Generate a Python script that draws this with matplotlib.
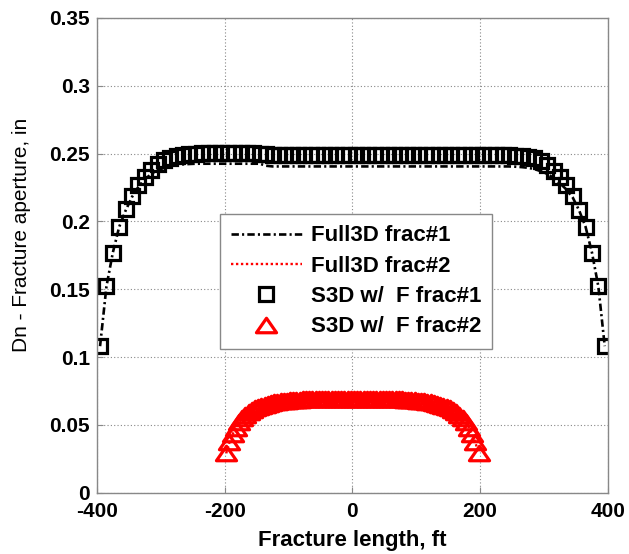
import matplotlib
matplotlib.use('Agg')
import matplotlib.pyplot as plt
from matplotlib.path import Path

# element centres along the fracture, ft
x_frac1 = [-395, -385, -375, -365, -355, -345, -335, -325, -315, -305,
           -295, -285, -275, -265, -255, -245, -235, -225, -215, -205,
           -195, -185, -175, -165, -155, -145, -135, -125, -115, -105,
           -95, -85, -75, -65, -55, -45, -35, -25, -15, -5,
           5, 15, 25, 35, 45, 55, 65, 75, 85, 95,
           105, 115, 125, 135, 145, 155, 165, 175, 185, 195,
           205, 215, 225, 235, 245, 255, 265, 275, 285, 295,
           305, 315, 325, 335, 345, 355, 365, 375, 385, 395]

x_frac2 = [-197.5, -192.5, -187.5, -182.5, -177.5, -172.5, -167.5, -162.5, -157.5, -152.5,
           -147.5, -142.5, -137.5, -132.5, -127.5, -122.5, -117.5, -112.5, -107.5, -102.5,
           -97.5, -92.5, -87.5, -82.5, -77.5, -72.5, -67.5, -62.5, -57.5, -52.5,
           -47.5, -42.5, -37.5, -32.5, -27.5, -22.5, -17.5, -12.5, -7.5, -2.5,
           2.5, 7.5, 12.5, 17.5, 22.5, 27.5, 32.5, 37.5, 42.5, 47.5,
           52.5, 57.5, 62.5, 67.5, 72.5, 77.5, 82.5, 87.5, 92.5, 97.5,
           102.5, 107.5, 112.5, 117.5, 122.5, 127.5, 132.5, 137.5, 142.5, 147.5,
           152.5, 157.5, 162.5, 167.5, 172.5, 177.5, 182.5, 187.5, 192.5, 197.5]

# Full3D results (lines)
full3d_frac1 = [0.108, 0.152, 0.177, 0.196, 0.208, 0.218, 0.2255, 0.231, 0.2348, 0.2375,
                0.2395, 0.2408, 0.2416, 0.242, 0.2423, 0.2425, 0.2425, 0.2425, 0.2425, 0.2425,
                0.2425, 0.2425, 0.2425, 0.2425, 0.2425, 0.2425, 0.241, 0.2405, 0.2405, 0.2405,
                0.2405, 0.2405, 0.2405, 0.2405, 0.2405, 0.2405, 0.2405, 0.2405, 0.2405, 0.2405,
                0.2405, 0.2405, 0.2405, 0.2405, 0.2405, 0.2405, 0.2405, 0.2405, 0.2405, 0.2405,
                0.2405, 0.2405, 0.2405, 0.2405, 0.2405, 0.2405, 0.2405, 0.2405, 0.2405, 0.2405,
                0.2405, 0.2405, 0.2405, 0.2405, 0.2405, 0.2403, 0.2400, 0.2395, 0.2385, 0.2370,
                0.2350, 0.2320, 0.2280, 0.2235, 0.2175, 0.2080, 0.1960, 0.1770, 0.1520, 0.1080]

full3d_frac2 = [0.029, 0.037, 0.043, 0.048, 0.052, 0.055, 0.0573, 0.0592, 0.0607, 0.0619,
                0.0629, 0.0637, 0.0645, 0.0652, 0.0657, 0.0662, 0.0667, 0.067, 0.0673, 0.0676,
                0.0678, 0.068, 0.0682, 0.0683, 0.0684, 0.0685, 0.0686, 0.0687, 0.0687, 0.0687,
                0.0688, 0.0688, 0.0688, 0.0688, 0.0689, 0.0689, 0.0689, 0.0689, 0.0689, 0.0689,
                0.0689, 0.0689, 0.0689, 0.0689, 0.0689, 0.0689, 0.0688, 0.0688, 0.0688, 0.0688,
                0.0687, 0.0687, 0.0687, 0.0686, 0.0685, 0.0684, 0.0683, 0.0682, 0.068, 0.0678,
                0.0676, 0.0673, 0.067, 0.0667, 0.0662, 0.0657, 0.0652, 0.0645, 0.0637, 0.0629,
                0.0619, 0.0607, 0.0592, 0.0573, 0.055, 0.052, 0.048, 0.043, 0.037, 0.029]

# S3D w/ F results (markers)
s3d_frac1 = [0.108, 0.152, 0.177, 0.196, 0.209, 0.219, 0.227, 0.233, 0.238, 0.242,
             0.245, 0.247, 0.248, 0.249, 0.2495, 0.250, 0.2505, 0.2505, 0.2505, 0.2505,
             0.2505, 0.2505, 0.2505, 0.2505, 0.2505, 0.2500, 0.2495, 0.2492, 0.249, 0.249,
             0.249, 0.249, 0.249, 0.249, 0.249, 0.249, 0.249, 0.249, 0.249, 0.249,
             0.249, 0.249, 0.249, 0.249, 0.249, 0.249, 0.249, 0.249, 0.249, 0.249,
             0.249, 0.249, 0.249, 0.249, 0.249, 0.249, 0.249, 0.249, 0.249, 0.249,
             0.249, 0.249, 0.249, 0.249, 0.2488, 0.2485, 0.248, 0.2475, 0.2465, 0.2445,
             0.2415, 0.2375, 0.2325, 0.2265, 0.219, 0.2085, 0.196, 0.177, 0.152, 0.108]

s3d_frac2 = [0.029, 0.037, 0.043, 0.048, 0.052, 0.055, 0.0575, 0.0595, 0.061, 0.0622,
             0.0632, 0.064, 0.0648, 0.0655, 0.066, 0.0665, 0.067, 0.0673, 0.0676, 0.0679,
             0.0681, 0.0683, 0.0685, 0.0686, 0.0687, 0.0688, 0.0689, 0.069, 0.069, 0.069,
             0.0691, 0.0691, 0.0691, 0.0691, 0.0692, 0.0692, 0.0692, 0.0692, 0.0692, 0.0692,
             0.0692, 0.0692, 0.0692, 0.0692, 0.0692, 0.0692, 0.0691, 0.0691, 0.0691, 0.0691,
             0.069, 0.069, 0.069, 0.0689, 0.0688, 0.0687, 0.0686, 0.0685, 0.0683, 0.0681,
             0.0679, 0.0676, 0.0673, 0.067, 0.0665, 0.066, 0.0655, 0.0648, 0.064, 0.0632,
             0.0622, 0.061, 0.0595, 0.0575, 0.055, 0.052, 0.048, 0.043, 0.037, 0.029]

x_ticks = [-400, -200, 0, 200, 400]
y_ticks = [0, 0.05, 0.1, 0.15, 0.2, 0.25, 0.3, 0.35]
y_tick_labels = ['0', '0.05', '0.1', '0.15', '0.2', '0.25', '0.3', '0.35']

plt.rcParams['font.family'] = ['Liberation Sans', 'DejaVu Sans']
plt.rcParams['axes.unicode_minus'] = False

fig = plt.figure(figsize=(6.29, 5.54), dpi=100)
ax = fig.add_axes([0.154, 0.1107, 0.8125, 0.857])

# wide triangle marker like the original
tri = Path([(-1, -0.72), (1, -0.72), (0, 0.72), (-1, -0.72)], closed=True)

ax.plot(x_frac1, full3d_frac1, color='black', lw=1.9, dashes=(2.8, 1.2, 0.8, 1.2),
        label='Full3D frac#1')
ax.plot(x_frac2, full3d_frac2, color='red', lw=1.7, dashes=(1, 1.1),
        label='Full3D frac#2')
ax.plot(x_frac1, s3d_frac1, ls='none', marker='s', ms=10, mew=2.3,
        mec='black', mfc='none', label='S3D w/  F frac#1')
ax.plot(x_frac2, s3d_frac2, ls='none', marker=tri, ms=14.5, mew=2.3,
        mec='red', mfc='none', label='S3D w/  F frac#2')

ax.set_xlim(-400, 400)
ax.set_ylim(0, 0.35)
ax.set_xticks(x_ticks)
ax.set_yticks(y_ticks)
ax.set_yticklabels(y_tick_labels)
ax.tick_params(direction='in', length=4, color='#888888', labelsize=15, pad=5)
ax.tick_params(axis='x', pad=7)
for lab in ax.get_xticklabels() + ax.get_yticklabels():
    lab.set_fontweight('bold')

ax.grid(True, color='#888888', lw=0.8, linestyle=(0, (1, 2)))
for s in ax.spines.values():
    s.set_color('#888888')
    s.set_linewidth(1.0)

ax.set_xlabel('Fracture length, ft', fontsize=16, fontweight='bold', labelpad=6)
ax.set_ylabel('Dn - Fracture aperture, in', fontsize=15)
ax.yaxis.set_label_coords(-0.128, 0.543)

leg = ax.legend(loc='center', bbox_to_anchor=(0.507, 0.445), fancybox=False,
                edgecolor='#888888', framealpha=1, numpoints=1,
                prop={'size': 16, 'weight': 'bold'}, handlelength=3.2,
                handletextpad=0.4, labelspacing=0.42, borderpad=0.5)
leg.get_frame().set_linewidth(1.0)

fig.savefig('out.png', dpi=100)
